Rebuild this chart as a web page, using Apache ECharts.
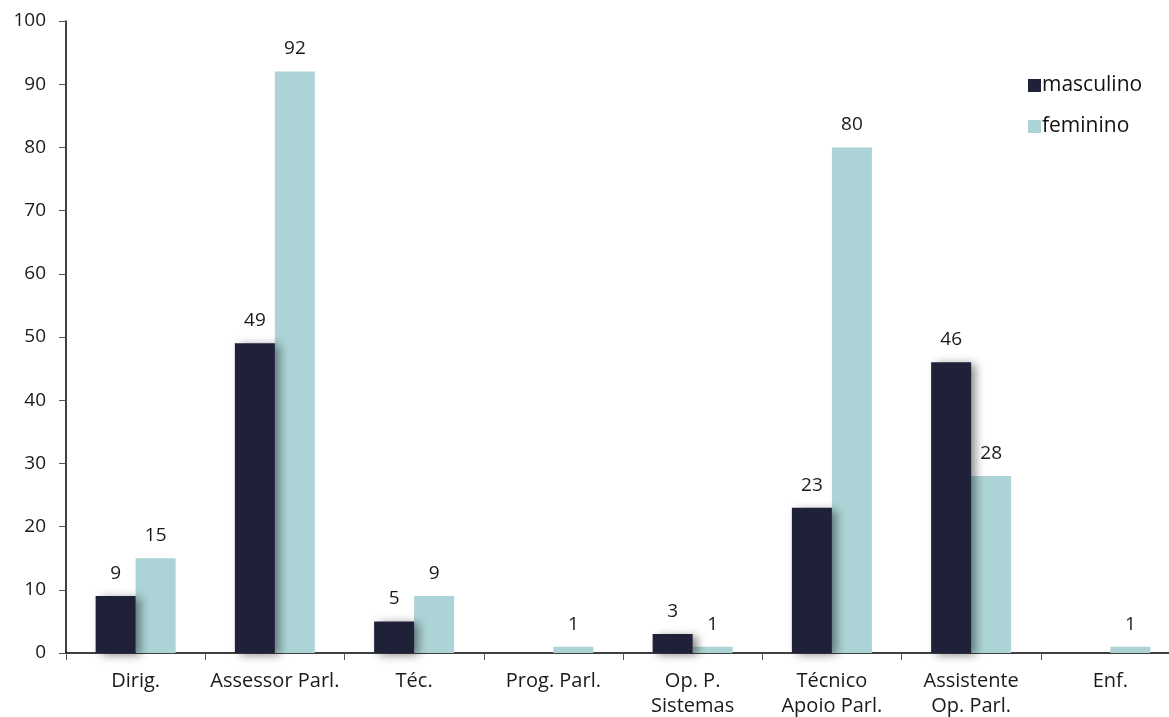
<!DOCTYPE html>
<html><head><meta charset="utf-8">
<script src="https://cdn.jsdelivr.net/npm/echarts@6/dist/echarts.min.js"></script>
<style>html,body{margin:0;padding:0;background:#fff}#c{width:1169px;height:717px}</style>
</head><body><div id="c"></div>
<script>
const categories = ['Dirig.', 'Assessor Parl.', 'Téc.', 'Prog. Parl.', 'Op. P.\nSistemas', 'Técnico\nApoio Parl.', 'Assistente\nOp. Parl.', 'Enf.'];
const masculino = [9, 49, 5, 0, 3, 23, 46, 0];
const feminino = [15, 92, 9, 1, 1, 80, 28, 1];
const yTicks = {min: 0, max: 100, interval: 10};

const font = 'Open Sans';
const chart = echarts.init(document.getElementById('c'), null, {renderer: 'canvas'});
const lbl = {
  show: true, position: 'top', distance: 13, color: '#1a1a1a', fontSize: 19, fontFamily: font,
  formatter: p => p.value === 0 ? '' : String(p.value)
};
chart.setOption({
  animation: false,
  backgroundColor: '#fff',
  grid: {left: 66, width: 1114, top: 21, height: 632, containLabel: false, outerBoundsMode: 'none'},
  legend: {
    orient: 'vertical', left: 1023, top: 70, itemWidth: 13, itemHeight: 13, itemGap: 20,
    icon: 'rect', textStyle: {fontSize: 21, fontFamily: font, color: '#111', padding: [0, 0, 0, -4]},
    data: ['masculino', 'feminino']
  },
  xAxis: {
    type: 'category', data: categories,
    axisLine: {lineStyle: {color: '#000', width: 1.5}},
    axisTick: {show: true, length: 7, lineStyle: {color: '#555'}},
    axisLabel: {color: '#1a1a1a', fontSize: 20, fontFamily: font, margin: 16, lineHeight: 25, interval: 0}
  },
  yAxis: {
    type: 'value', min: yTicks.min, max: yTicks.max, interval: yTicks.interval,
    axisLine: {show: true, lineStyle: {color: '#000', width: 1.5}},
    axisTick: {show: true, length: 7, lineStyle: {color: '#555'}},
    splitLine: {show: false},
    axisLabel: {color: '#1a1a1a', fontSize: 19, fontFamily: font, margin: 20}
  },
  series: [
    {name: 'masculino', type: 'bar', data: masculino, barWidth: 40, barGap: '0%',
     itemStyle: {color: '#1F2139', shadowColor: 'rgba(0,0,0,0.45)', shadowBlur: 9, shadowOffsetX: 5, shadowOffsetY: 2},
     label: lbl, z: 3},
    {name: 'feminino', type: 'bar', data: feminino, barWidth: 40,
     itemStyle: {color: '#ACD3D5'}, label: lbl, z: 2}
  ]
});
</script></body></html>
